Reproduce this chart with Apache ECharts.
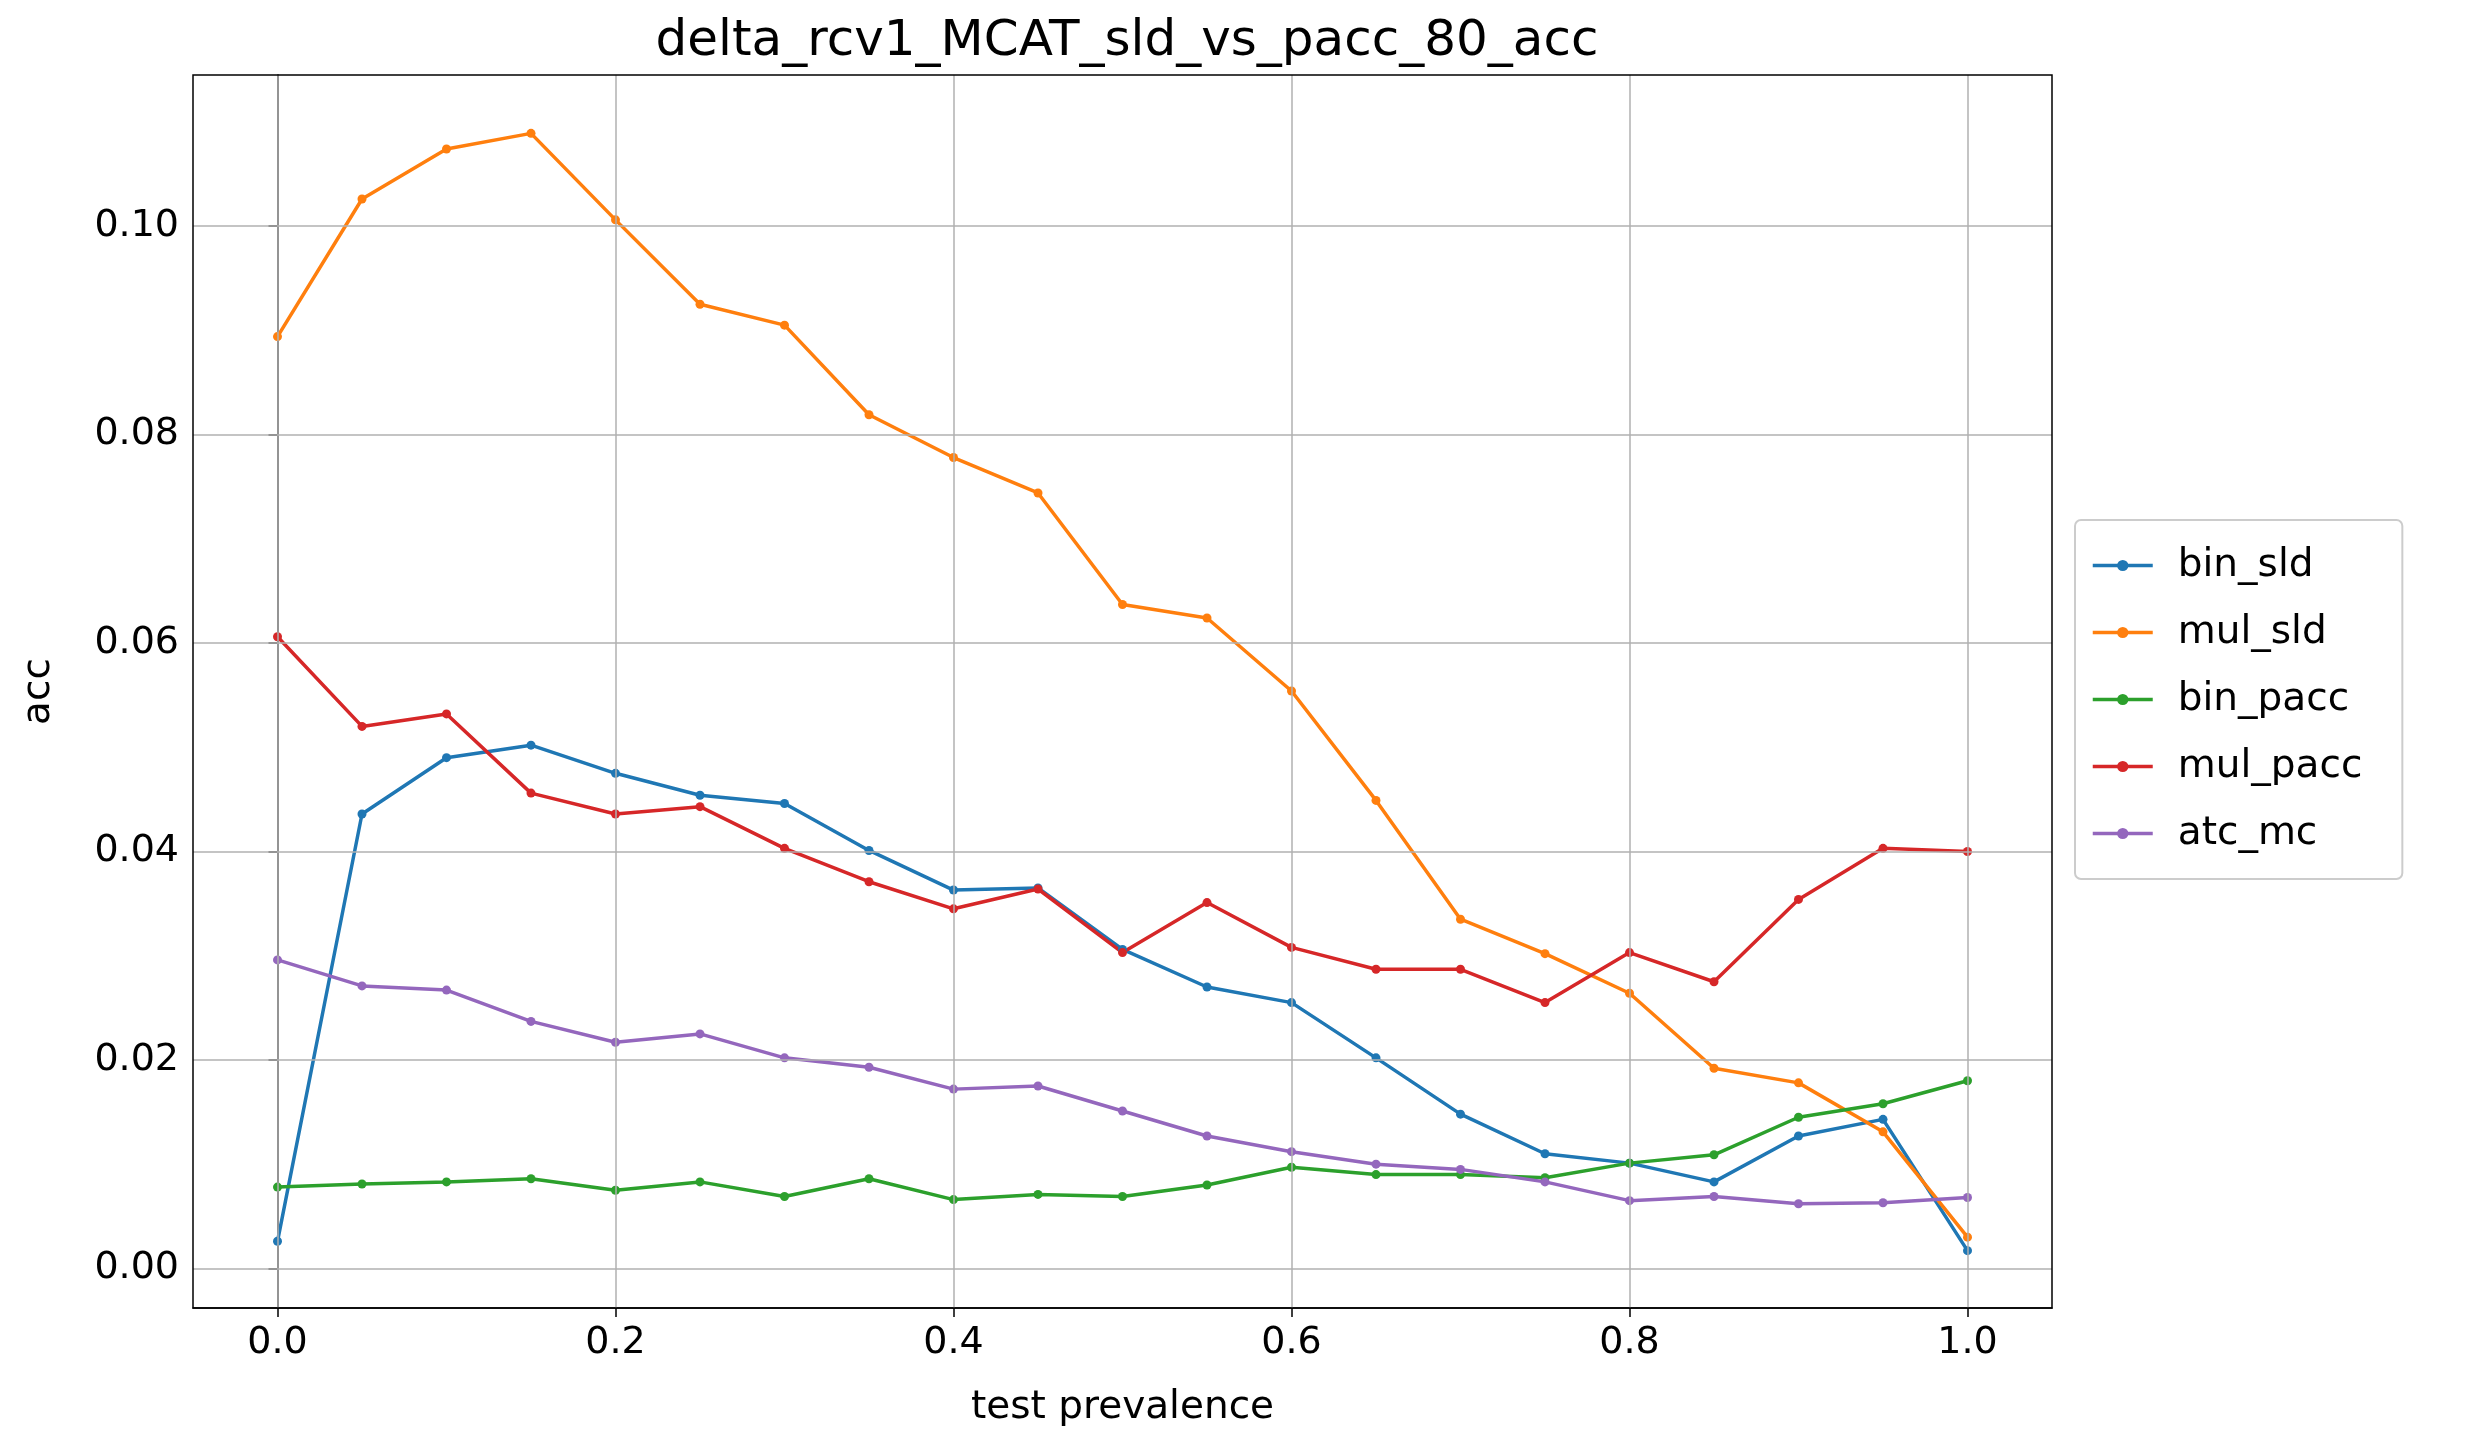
<!DOCTYPE html>
<html><head><meta charset="utf-8">
<script src="https://cdn.jsdelivr.net/npm/echarts@6/dist/echarts.min.js"></script>
<style>html,body{margin:0;padding:0;background:#fff}#c{width:2465px;height:1446px}</style>
</head><body><div id="c"></div>
<script>
const xs = [0,0.05,0.1,0.15,0.2,0.25,0.3,0.35,0.4,0.45,0.5,0.55,0.6,0.65,0.7,0.75,0.8,0.85,0.9,0.95,1.0];
const bin_sld = [0.0026,0.0436,0.049,0.0502,0.0475,0.0454,0.0446,0.0401,0.0363,0.0365,0.0306,0.027,0.0255,0.0202,0.0148,0.011,0.0101,0.0083,0.0127,0.0143,0.0017];
const mul_sld = [0.0894,0.1026,0.1074,0.1089,0.1006,0.0925,0.0905,0.0819,0.0778,0.0744,0.0637,0.0624,0.0554,0.0449,0.0335,0.0302,0.0264,0.0192,0.0178,0.0131,0.003];
const bin_pacc = [0.0078,0.0081,0.0083,0.0086,0.0075,0.0083,0.0069,0.0086,0.0066,0.0071,0.0069,0.008,0.0097,0.009,0.009,0.0087,0.0101,0.0109,0.0145,0.0158,0.018];
const mul_pacc = [0.0606,0.052,0.0532,0.0456,0.0436,0.0443,0.0403,0.0371,0.0345,0.0364,0.0303,0.0351,0.0308,0.0287,0.0287,0.0255,0.0303,0.0275,0.0354,0.0403,0.04];
const atc_mc = [0.0296,0.0271,0.0267,0.0237,0.0217,0.0225,0.0202,0.0193,0.0172,0.0175,0.0151,0.0127,0.0112,0.01,0.0095,0.0083,0.0065,0.0069,0.0062,0.0063,0.0068];
const xTicks = [0,0.2,0.4,0.6,0.8,1.0];
const yTicks = [0,0.02,0.04,0.06,0.08,0.10];
const names = ['bin_sld','mul_sld','bin_pacc','mul_pacc','atc_mc'];
const vals = [bin_sld,mul_sld,bin_pacc,mul_pacc,atc_mc];
const colors = ['#1f77b4','#ff7f0e','#2ca02c','#d62728','#9467bd'];
const font = 'DejaVu Sans';
const series = names.map((n,i)=>({
  name:n,type:'line',data:xs.map((x,j)=>[x,vals[i][j]]),
  symbol:'circle',symbolSize:9,color:colors[i],lineStyle:{width:3.5},z:3,animation:false
}));
series.push({type:'line',data:[],silent:true,z:1,markLine:{symbol:'none',silent:true,animation:false,label:{show:false},
  lineStyle:{color:'#b0b0b0',width:1.5,type:'solid'},
  data:xTicks.map(v=>({xAxis:v})).concat(yTicks.map(v=>({yAxis:v})))}});
const chart = echarts.init(document.getElementById('c'));
chart.setOption({
  animation:false,
  title:{text:'delta_rcv1_MCAT_sld_vs_pacc_80_acc',left:1122,top:12,textAlign:'center',textStyle:{fontFamily:font,fontWeight:'normal',fontSize:50,color:'#000'}},
  grid:{left:193,right:413,top:75,bottom:138},
  legend:{orient:'vertical',left:2075,top:520,padding:[26,40,26,16],itemGap:28,
    data:names,itemWidth:60,itemHeight:14,borderColor:'#ccc',borderWidth:2,borderRadius:6,
    itemStyle:{borderWidth:0},lineStyle:{width:3.5},
    textStyle:{fontFamily:font,fontSize:39,color:'#000',padding:[0,0,0,20]}},
  xAxis:{type:'value',min:-0.05,max:1.05,name:'test prevalence',nameLocation:'middle',nameGap:80,
    nameTextStyle:{fontFamily:font,fontSize:39,color:'#000'},
    splitLine:{show:false},
    axisLine:{onZero:false,lineStyle:{color:'#000',width:1.5}},
    axisTick:{show:true,inside:false,customValues:xTicks,length:9,lineStyle:{color:'#000',width:1.5}},
    axisLabel:{customValues:xTicks,fontFamily:font,fontSize:38,color:'#000',margin:16,formatter:v=>v.toFixed(1)}},
  yAxis:{type:'value',min:-0.0038,max:0.1145,name:'acc',nameLocation:'middle',nameGap:135,
    nameTextStyle:{fontFamily:font,fontSize:39,color:'#000'},
    splitLine:{show:false},
    axisLine:{show:true,lineStyle:{color:'#000',width:1.5}},
    axisTick:{show:true,inside:false,customValues:yTicks,length:9,lineStyle:{color:'#000',width:1.5}},
    axisLabel:{customValues:yTicks,fontFamily:font,fontSize:38,color:'#000',margin:14,formatter:v=>v.toFixed(2)}},
  series:series
});
chart.setOption({graphic:[{type:'rect',shape:{x:193,y:75,width:2465-193-413,height:1446-75-138},style:{fill:'none',stroke:'#000',lineWidth:1.5},silent:true,z:10}]});
</script></body></html>
